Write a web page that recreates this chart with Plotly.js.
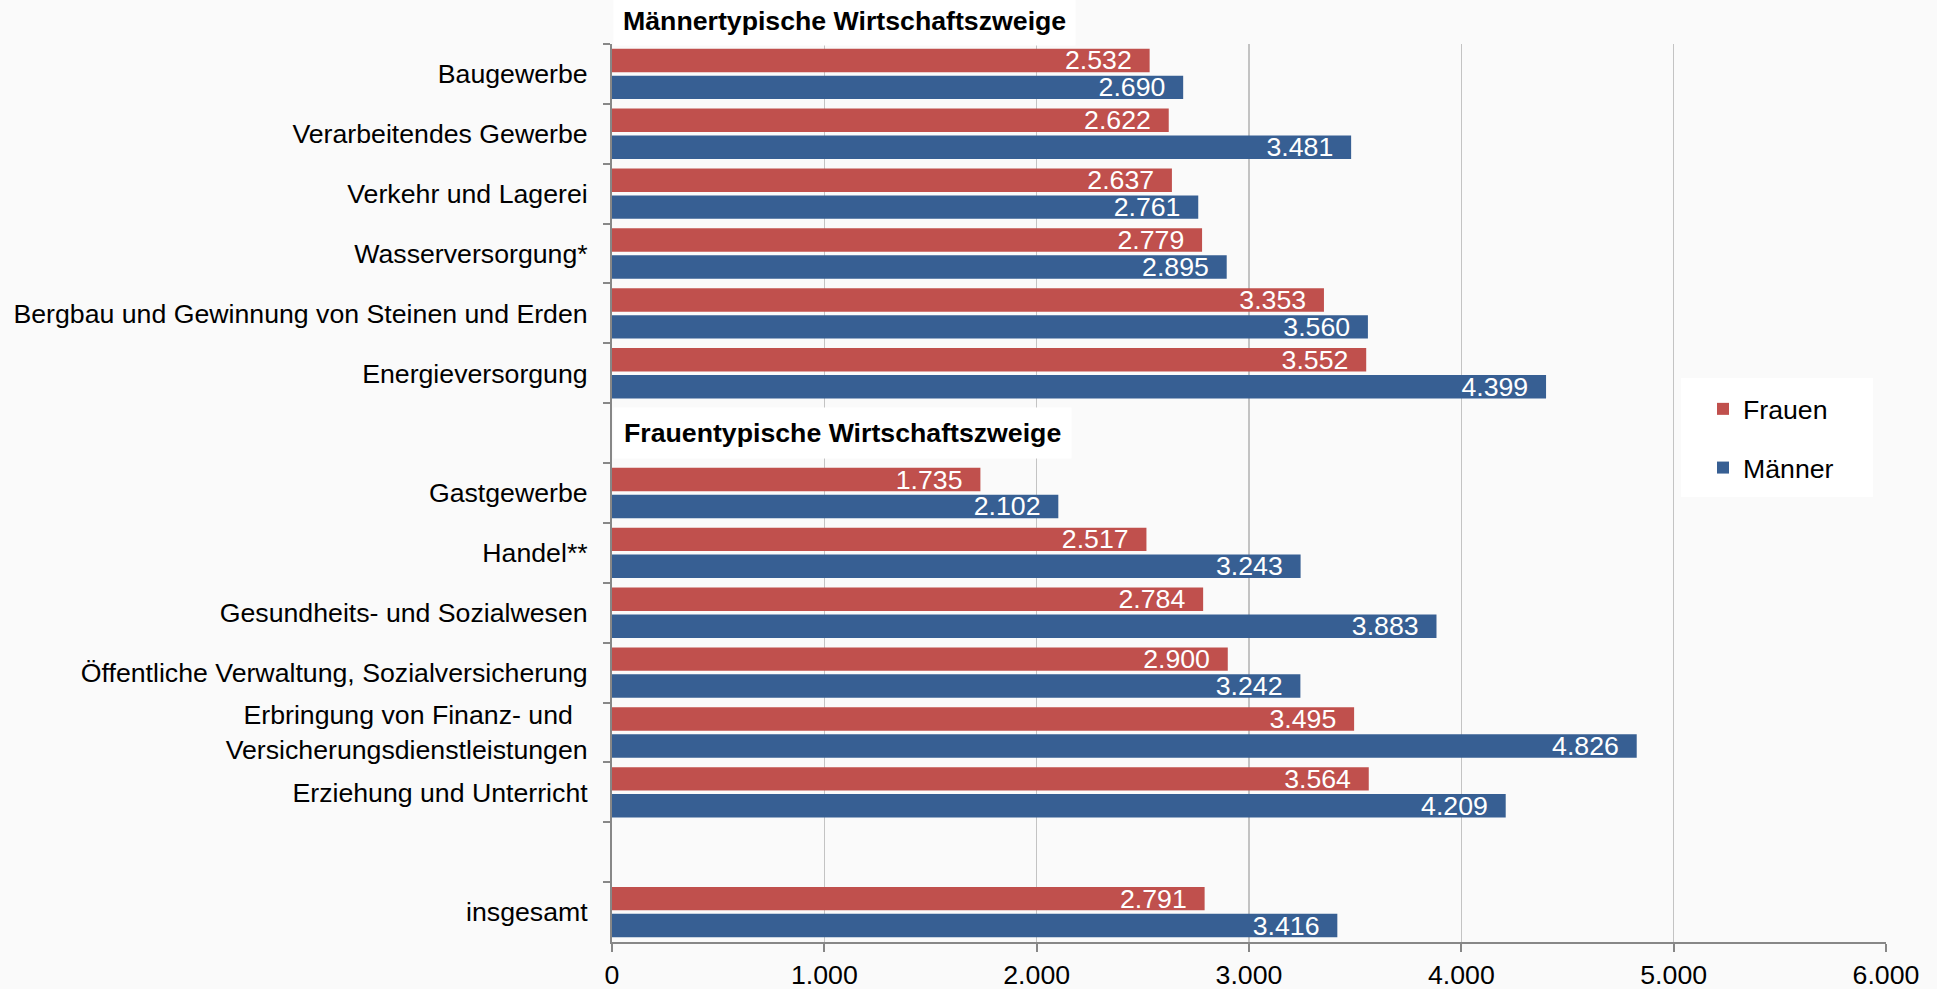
<!DOCTYPE html>
<html>
<head>
<meta charset="utf-8">
<script src="https://cdn.plot.ly/plotly-3.0.1.min.js"></script>
<style>
  html, body { margin: 0; padding: 0; background: #fafafa; }
  #chart { width: 1937px; height: 989px; }
</style>
</head>
<body>
<div id="chart"></div>
<script>
// Categories (top to bottom); blank entries are empty slots
const categories = [
  'Baugewerbe',
  'Verarbeitendes Gewerbe',
  'Verkehr und Lagerei',
  'Wasserversorgung*',
  'Bergbau und Gewinnung von Steinen und Erden',
  'Energieversorgung',
  ' ',
  'Gastgewerbe',
  'Handel**',
  'Gesundheits- und Sozialwesen',
  'Öffentliche Verwaltung, Sozialversicherung',
  'Erbringung von Finanz- und\u00a0\u00a0<br>Versicherungsdienstleistungen',
  'Erziehung und Unterricht',
  '  ',
  'insgesamt'
];
const frauen  = [2532, 2622, 2637, 2779, 3353, 3552, null, 1735, 2517, 2784, 2900, 3495, 3564, null, 2791];
const maenner = [2690, 3481, 2761, 2895, 3560, 4399, null, 2102, 3243, 3883, 3242, 4826, 4209, null, 3416];
const seriesNames = ['Frauen', 'Männer'];
const xTicks = [0, 1000, 2000, 3000, 4000, 5000, 6000];
const headingMaenner = 'Männertypische Wirtschaftszweige';
const headingFrauen = 'Frauentypische Wirtschaftszweige';

const FONT = '"Liberation Sans", Arial, sans-serif';
const FS = 26.7;

function barTrace(name, values, color, group) {
  return {
    type: 'bar',
    orientation: 'h',
    name: name,
    legendgroup: group,
    y: categories,
    x: values,
    marker: { color: color },
    texttemplate: '%{x:,}\u00a0\u00a0',
    textposition: 'inside',
    insidetextanchor: 'end',
    constraintext: 'none',
    textfont: { family: FONT, size: FS, color: '#ffffff' },
    hoverinfo: 'skip'
  };
}

const data = [
  barTrace(seriesNames[0], frauen, '#C0504D', 'g1'),
  barTrace(seriesNames[1], maenner, '#375F93', 'g2')
];

const layout = {
  width: 1937,
  height: 989,
  margin: { l: 612, r: 51, t: 44, b: 47 },
  paper_bgcolor: '#fafafa',
  plot_bgcolor: '#fafafa',
  separators: ',.',
  font: { family: FONT, size: FS, color: '#000000' },
  barmode: 'group',
  bargap: 0.1,
  bargroupgap: 0.13,
  showlegend: true,
  legend: {
    x: (1703 - 612) / 1274,
    xanchor: 'left',
    y: (942 - 438.5) / 898,
    yanchor: 'middle',
    bgcolor: 'rgba(0,0,0,0)',
    traceorder: 'grouped',
    tracegroupgap: 21,
    font: { family: FONT, size: FS, color: '#000000' }
  },
  xaxis: {
    range: [0, 6000],
    tickvals: xTicks,
    tickformat: ',',
    showgrid: true,
    gridcolor: '#c3c3c3',
    gridwidth: 1.5,
    zeroline: false,
    showline: true,
    linecolor: '#878787',
    linewidth: 2,
    ticks: 'outside',
    ticklen: 8,
    tickwidth: 2,
    tickcolor: '#878787',
    ticklabelstandoff: 0,
    tickfont: { family: FONT, size: FS, color: '#000000' },
    fixedrange: true
  },
  yaxis: {
    type: 'category',
    categoryorder: 'array',
    categoryarray: categories,
    autorange: 'reversed',
    showgrid: false,
    zeroline: false,
    showline: true,
    linecolor: '#878787',
    linewidth: 2,
    ticks: 'outside',
    tickson: 'boundaries',
    ticklen: 7,
    tickwidth: 2,
    tickcolor: '#878787',
    ticklabelstandoff: 17,
    tickfont: { family: FONT, size: FS, color: '#000000' },
    fixedrange: true
  },
  shapes: [
    {
      type: 'rect', xref: 'paper', yref: 'paper', layer: 'below',
      x0: (1681 - 612) / 1274, x1: (1873 - 612) / 1274,
      y0: (942 - 497) / 898, y1: (942 - 378) / 898,
      fillcolor: '#ffffff', line: { width: 0 }
    }
  ],
  annotations: [
    {
      text: '<b>' + headingMaenner + '</b>',
      xref: 'x', yref: 'paper',
      x: 0, xanchor: 'left', xshift: 1,
      y: 1 + 23 / 898, yanchor: 'middle',
      showarrow: false,
      bgcolor: '#ffffff',
      borderpad: 9,
      font: { family: FONT, size: FS, color: '#000000' }
    },
    {
      text: '<b>' + headingFrauen + '</b>',
      xref: 'x', yref: 'y',
      x: 0, xanchor: 'left', xshift: 1,
      y: ' ', yanchor: 'middle',
      showarrow: false,
      bgcolor: '#ffffff',
      borderpad: 10,
      font: { family: FONT, size: FS, color: '#000000' }
    }
  ]
};

Plotly.newPlot('chart', data, layout, { displayModeBar: false, staticPlot: true });
</script>
</body>
</html>
